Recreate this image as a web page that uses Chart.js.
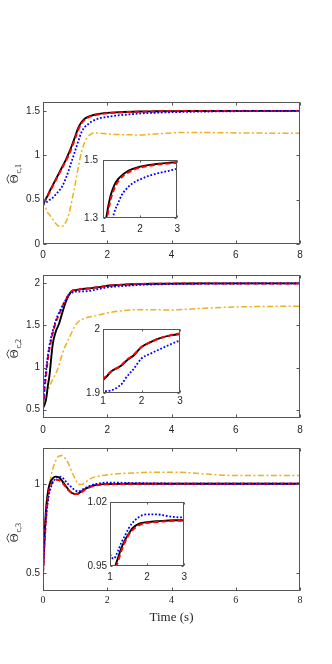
<!DOCTYPE html>
<html>
<head>
<meta charset="utf-8">
<script src="https://cdn.jsdelivr.net/npm/chart.js@4.4.0/dist/chart.umd.min.js"></script>
<style>
body { margin: 0; background: #fff; width: 332px; height: 664px; position: relative; overflow: hidden; }
canvas { position: absolute; }
</style>
</head>
<body>
<canvas id="c1"></canvas>
<canvas id="c2"></canvas>
<canvas id="c3"></canvas>
<canvas id="i1"></canvas>
<canvas id="i2"></canvas>
<canvas id="i3"></canvas>
<script>
// time samples (s)
var t = [0, 0.05, 0.1, 0.15, 0.2, 0.3, 0.4, 0.5, 0.6, 0.7, 0.8, 0.9, 1.0, 1.1, 1.2, 1.3, 1.4, 1.5, 1.6, 1.8, 2.0, 2.25, 2.5, 2.75, 3.0, 3.5, 4, 4.5, 5, 6, 7, 8];

// theta c,1
var black1  = [0.45, 0.48, 0.515, 0.55, 0.59, 0.66, 0.73, 0.80, 0.87, 0.94, 1.02, 1.11, 1.21, 1.31, 1.375, 1.412, 1.433, 1.446, 1.456, 1.469, 1.477, 1.483, 1.487, 1.490, 1.4925, 1.495, 1.497, 1.498, 1.499, 1.5, 1.5, 1.5];
var red1    = [0.47, 0.49, 0.51, 0.54, 0.58, 0.65, 0.72, 0.79, 0.86, 0.93, 1.0, 1.09, 1.19, 1.29, 1.36, 1.40, 1.425, 1.44, 1.451, 1.465, 1.474, 1.48, 1.485, 1.488, 1.49, 1.494, 1.496, 1.498, 1.499, 1.5, 1.5, 1.5];
var blue1   = [0.45, 0.46, 0.47, 0.48, 0.495, 0.52, 0.56, 0.60, 0.65, 0.73, 0.83, 0.94, 1.05, 1.16, 1.26, 1.318, 1.349, 1.378, 1.396, 1.42, 1.433, 1.446, 1.455, 1.462, 1.47, 1.479, 1.485, 1.489, 1.492, 1.496, 1.498, 1.499];
var orange1 = [0.5, 0.44, 0.39, 0.35, 0.33, 0.28, 0.23, 0.20, 0.20, 0.24, 0.33, 0.49, 0.67, 0.87, 1.04, 1.15, 1.21, 1.24, 1.25, 1.248, 1.24, 1.235, 1.232, 1.23, 1.229, 1.24, 1.252, 1.257, 1.256, 1.252, 1.249, 1.247];

// theta c,2
var black2  = [0.52, 0.56, 0.63, 0.78, 0.9, 1.27, 1.43, 1.52, 1.65, 1.77, 1.86, 1.91, 1.92, 1.926, 1.933, 1.937, 1.94, 1.944, 1.95, 1.959, 1.972, 1.98, 1.986, 1.99, 1.992, 1.996, 1.998, 1.999, 2.0, 2.0, 2.0, 2.0];
var red2    = [0.52, 0.75, 0.93, 1.1, 1.22, 1.4, 1.54, 1.63, 1.72, 1.8, 1.87, 1.91, 1.922, 1.927, 1.933, 1.937, 1.94, 1.945, 1.951, 1.96, 1.972, 1.98, 1.986, 1.99, 1.993, 1.996, 1.998, 1.999, 2.0, 2.0, 2.0, 2.0];
var blue2   = [0.5, 0.8, 0.98, 1.14, 1.26, 1.43, 1.56, 1.65, 1.73, 1.8, 1.86, 1.89, 1.902, 1.903, 1.904, 1.906, 1.91, 1.915, 1.924, 1.938, 1.954, 1.962, 1.969, 1.976, 1.982, 1.988, 1.992, 1.995, 1.997, 1.999, 2.0, 2.0];
var orange2 = [0.5, 0.6, 0.67, 0.72, 0.77, 0.86, 0.93, 1.03, 1.16, 1.26, 1.34, 1.42, 1.5, 1.545, 1.57, 1.585, 1.597, 1.605, 1.612, 1.63, 1.65, 1.665, 1.677, 1.685, 1.688, 1.686, 1.685, 1.693, 1.705, 1.72, 1.726, 1.73];

// theta c,3
var black3  = [0.5, 0.72, 0.87, 0.95, 0.995, 1.03, 1.04, 1.035, 1.015, 0.99, 0.965, 0.948, 0.943, 0.946, 0.957, 0.969, 0.978, 0.985, 0.991, 0.9965, 0.998, 0.999, 0.9995, 1.0, 1.0, 1.0, 1.0, 1.0, 1.0, 1.0, 1.0, 1.0];
var red3    = [0.5, 0.68, 0.83, 0.92, 0.97, 1.01, 1.022, 1.02, 1.005, 0.985, 0.963, 0.948, 0.942, 0.944, 0.953, 0.966, 0.976, 0.984, 0.989, 0.995, 0.997, 0.998, 0.999, 0.9995, 0.9995, 1.0, 1.0, 1.0, 1.0, 1.0, 1.0, 1.0];
var blue3   = [0.5, 0.7, 0.82, 0.9, 0.95, 1.005, 1.03, 1.04, 1.035, 1.015, 0.995, 0.978, 0.963, 0.958, 0.965, 0.975, 0.983, 0.991, 0.997, 1.004, 1.0065, 1.0065, 1.005, 1.0035, 1.003, 1.002, 1.001, 1.0005, 1.0, 1.0, 1.0, 1.0];
var orange3 = [0.5, 0.65, 0.79, 0.9, 0.99, 1.08, 1.13, 1.155, 1.158, 1.14, 1.11, 1.065, 1.03, 0.997, 0.996, 1.005, 1.02, 1.03, 1.037, 1.045, 1.05, 1.055, 1.058, 1.06, 1.062, 1.065, 1.065, 1.062, 1.055, 1.046, 1.046, 1.046];

// tick labels
var xTicksMain = [0, 2, 4, 6, 8];
var xTicksInset = [1, 2, 3];
var yTicks1 = [0, 0.5, 1, 1.5];
var yTicks2 = [0.5, 1, 1.5, 2];
var yTicks3 = [0.5, 1];
var yTicksIn1 = [1.3, 1.5];
var yTicksIn2 = [1.9, 2];
var yTicksIn3 = [0.95, 1.02];

var SANS = '"Liberation Sans", Arial, sans-serif';
var SERIF = '"Liberation Serif", "Times New Roman", serif';
var AXC = '#262626';

function pts(ys) {
  return ys.map(function(y, i) { return {x: t[i], y: y}; });
}

function datasets(b, r, bl, o) {
  // first one is drawn on top
  var ds = [
    {data: pts(bl), borderColor: '#0000ff', borderWidth: 1.8, borderDash: [1.8, 1.8], clip: 0},
    {data: pts(r), borderColor: '#ff0000', borderWidth: 2, borderDash: [5, 3], clip: 0},
    {data: pts(b), borderColor: '#000000', borderWidth: 1.9, clip: 0}
  ];
  if (o) ds.push({data: pts(o), borderColor: '#edb120', borderWidth: 1.5, borderDash: [6, 2.5, 2, 2.5], clip: 0});
  return ds;
}

var framePlugin = {
  id: 'frame',
  beforeDraw: function(chart, args, opts) {
    if (!opts.fill) return;
    var a = chart.chartArea, ctx = chart.ctx;
    ctx.save();
    ctx.fillStyle = '#fff';
    ctx.fillRect(a.left, a.top, a.right - a.left, a.bottom - a.top);
    ctx.restore();
  },
  afterDraw: function(chart, args, opts) {
    var a = chart.chartArea, ctx = chart.ctx, len = opts.tick || 3;
    var L = Math.round(a.left) + 0.5, R = Math.round(a.right) - 0.5;
    var T = Math.round(a.top) + 0.5, B = Math.round(a.bottom) - 0.5;
    ctx.save();
    ctx.strokeStyle = '#555';
    ctx.lineWidth = 1;
    ctx.strokeRect(L, T, R - L, B - T);
    ctx.beginPath();
    chart.scales.x.ticks.forEach(function(tk) {
      var px = Math.round(chart.scales.x.getPixelForValue(tk.value)) + 0.5;
      ctx.moveTo(px, B); ctx.lineTo(px, B - len);
      ctx.moveTo(px, T); ctx.lineTo(px, T + len);
    });
    chart.scales.y.ticks.forEach(function(tk) {
      var py = Math.round(chart.scales.y.getPixelForValue(tk.value)) + 0.5;
      ctx.moveTo(L, py); ctx.lineTo(L + len, py);
      ctx.moveTo(R, py); ctx.lineTo(R - len, py);
    });
    ctx.stroke();
    if (opts.label) {
      ctx.translate(opts.lx, opts.ly);
      ctx.rotate(-Math.PI / 2);
      ctx.fillStyle = AXC;
      ctx.strokeStyle = AXC;
      ctx.font = '12px ' + SERIF;
      ctx.textAlign = 'center';
      ctx.textBaseline = 'middle';
      ctx.fillText('\u0398', 0, 0);
      ctx.beginPath();
      ctx.lineWidth = 0.8;
      ctx.moveTo(-4.5, -6); ctx.lineTo(0, -8.2); ctx.lineTo(4.5, -6);
      ctx.stroke();
      ctx.font = '8px ' + SERIF;
      ctx.textAlign = 'left';
      ctx.fillText('c,' + opts.label, 5.5, 4);
    }
    ctx.restore();
  }
};

function makeChart(id, p) {
  var cv = document.getElementById(id);
  cv.width = p.w; cv.height = p.h;
  cv.style.left = p.left + 'px'; cv.style.top = p.top + 'px';
  cv.style.width = p.w + 'px'; cv.style.height = p.h + 'px';
  var xScale = {
    type: 'linear', min: p.xmin, max: p.xmax,
    grid: {display: false, drawTicks: false}, border: {display: false},
    afterBuildTicks: function(s) { s.ticks = p.xticks.map(function(v) { return {value: v}; }); },
    afterFit: function(s) { s.height = p.xh; },
    ticks: {padding: p.xpad, maxRotation: 0, autoSkip: false, color: AXC,
      font: {family: p.xfont || SANS, size: 10},
      callback: function(v) { return String(v); }}
  };
  if (p.xtitle) {
    xScale.title = {display: true, text: p.xtitle, color: AXC,
      font: {family: SERIF, size: 13}, padding: {top: 0, bottom: 2}};
  }
  return new Chart(cv.getContext('2d'), {
    type: 'line',
    data: {datasets: p.ds},
    options: {
      responsive: false, animation: false, events: [],
      layout: {padding: {top: p.padTop, right: p.padRight, left: 0, bottom: 0}},
      elements: {point: {radius: 0}, line: {cubicInterpolationMode: 'monotone', borderCapStyle: 'butt'}},
      plugins: {legend: {display: false}, tooltip: {enabled: false},
        frame: {fill: p.fill, tick: p.tick, label: p.label, lx: p.lx, ly: p.ly}},
      scales: {
        x: xScale,
        y: {
          type: 'linear', min: p.ymin, max: p.ymax,
          grid: {display: false, drawTicks: false}, border: {display: false},
          afterBuildTicks: function(s) { s.ticks = p.yticks.map(function(v) { return {value: v}; }); },
          afterFit: function(s) { s.width = p.yw; },
          ticks: {padding: p.ypad || 3, color: AXC, font: {family: SANS, size: 10},
            callback: function(v) { return String(v); }}
        }
      }
    },
    plugins: [framePlugin]
  });
}

// main panels
makeChart('c1', {left: 0, top: 92, w: 332, h: 168, padTop: 10, padRight: 32, yw: 43, xh: 16, xpad: 5,
  xmin: 0, xmax: 8, ymin: 0, ymax: 1.6, xticks: xTicksMain, yticks: yTicks1,
  ds: datasets(black1, red1, blue1, orange1), tick: 3, label: '1', lx: 15, ly: 87});
makeChart('c2', {left: 0, top: 265, w: 332, h: 169, padTop: 10, padRight: 32, yw: 43, xh: 16, xpad: 6,
  xmin: 0, xmax: 8, ymin: 0.4, ymax: 2.1, xticks: xTicksMain, yticks: yTicks2,
  ds: datasets(black2, red2, blue2, orange2), tick: 3, label: '2', lx: 15, ly: 89});
makeChart('c3', {left: 0, top: 438, w: 332, h: 189, padTop: 10, padRight: 32, yw: 43, xh: 36, xpad: 3,
  xfont: SERIF, xtitle: 'Time (s)',
  xmin: 0, xmax: 8, ymin: 0.4, ymax: 1.2, xticks: xTicksMain, yticks: yTicks3,
  ds: datasets(black3, red3, blue3, orange3), tick: 3, label: '3', lx: 15, ly: 100});

// zoomed insets (the orange curve is not shown in them)
makeChart('i1', {left: 78, top: 149, w: 107, h: 85, padTop: 8, padRight: 6, yw: 25, xh: 16, xpad: 5, ypad: 5,
  xmin: 1, xmax: 3, ymin: 1.3, ymax: 1.5, xticks: xTicksInset, yticks: yTicksIn1,
  ds: datasets(black1, red1, blue1), fill: true, tick: 2});
makeChart('i2', {left: 78, top: 320, w: 108, h: 89, padTop: 8, padRight: 6, yw: 25, xh: 16, xpad: 2,
  xmin: 1, xmax: 3, ymin: 1.9, ymax: 2, xticks: xTicksInset, yticks: yTicksIn2,
  ds: datasets(black2, red2, blue2), fill: true, tick: 2});
makeChart('i3', {left: 80, top: 493, w: 112, h: 89, padTop: 8, padRight: 6, yw: 30, xh: 16, xpad: 5,
  xmin: 1, xmax: 3, ymin: 0.95, ymax: 1.02, xticks: xTicksInset, yticks: yTicksIn3,
  ds: datasets(black3, red3, blue3), fill: true, tick: 2});
</script>
</body>
</html>
